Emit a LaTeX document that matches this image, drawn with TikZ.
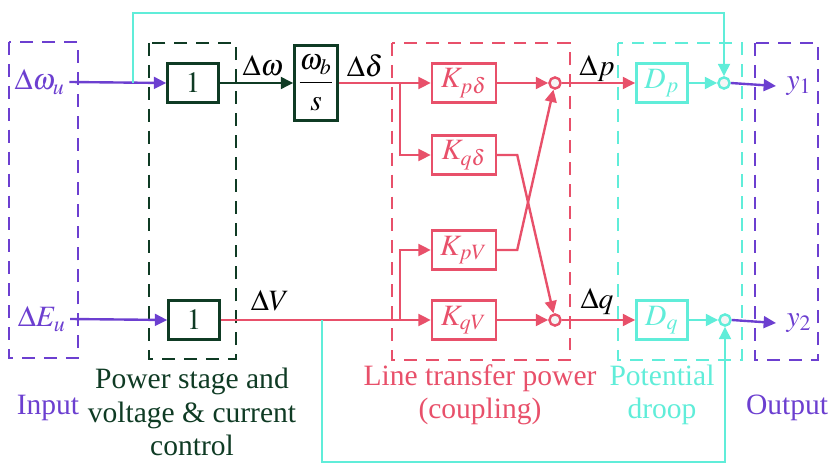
\documentclass[tikz,border=0pt]{standalone}
\usepackage{amsmath}
\usepackage{mathptmx}
\usepackage{fontspec}
\setmainfont{Liberation Serif}
\usepackage{tikz}
\usetikzlibrary{arrows.meta,positioning}

\definecolor{inpurple}{HTML}{6C3FD0}
\definecolor{pwgreen}{HTML}{0F3B24}
\definecolor{lnred}{HTML}{E8506A}
\definecolor{drteal}{HTML}{60EDD9}

\begin{document}
\begin{tikzpicture}[x=0.0125cm, y=-0.0125cm, >={Triangle[length=4.4pt,width=4.2pt]},
    font=\fontsize{10.5}{12}\selectfont, line width=0.85pt,
    blk/.style={draw, rectangle, minimum width=0.64cm,
                minimum height=0.49cm, inner sep=1pt, align=center},
    kblk/.style={blk, draw=lnred, text=lnred, minimum width=0.8cm},
    sumpt/.style={draw, circle, fill=gray!8, minimum size=0.14cm, inner sep=0pt},
    grp/.style={dashed, dash pattern=on 4.6pt off 3.2pt},
    lbl/.style={align=center, font=\fontsize{10.5}{11.9}\selectfont}]

\useasboundingbox (0,0) rectangle (830,471);

% dashed groups
\draw[grp, inpurple] (9,42) rectangle (78,358);
\draw[grp, pwgreen]  (149,43) rectangle (236,359);
\draw[grp, lnred]    (392,43) rectangle (570,360);
\draw[grp, drteal]   (618,43) rectangle (742,360);
\draw[grp, inpurple] (755,43) rectangle (818,360);

% blocks
\node[blk, draw=pwgreen, text=pwgreen] (gw) at (193,83)  {$1$};
\node[blk, draw=pwgreen, text=pwgreen] (ge) at (194,320) {$1$};
\node[blk, draw=pwgreen, minimum width=0.54cm, minimum height=0.94cm,
      inner sep=0pt] (integ) at (316,83) {$\dfrac{\omega_b}{s}$};

\node[kblk] (kpd) at (464,83)  {$K_{p\delta}$};
\node[kblk] (kqd) at (464,155) {$K_{q\delta}$};
\node[kblk] (kpv) at (464,250) {$K_{pV}$};
\node[kblk] (kqv) at (464,320) {$K_{qV}$};

\node[blk, draw=drteal, text=drteal] (dp) at (662,83)  {$D_p$};
\node[blk, draw=drteal, text=drteal] (dq) at (662,320) {$D_q$};

\node[sumpt, draw=lnred]  (sp) at (555,83)  {};
\node[sumpt, draw=lnred]  (sq) at (555,320) {};
\node[sumpt, draw=drteal] (sy1) at (724,83)  {};
\node[sumpt, draw=drteal] (sy2) at (725,320) {};

% signals
\node[text=inpurple, inner sep=1pt] (wu) at (40,82)  {$\Delta\omega_u$};
\node[text=inpurple, inner sep=1pt] (eu) at (42,319) {$\Delta E_u$};
\node[text=inpurple, anchor=west] (y1) at (776,86)  {$y_1$};
\node[text=inpurple, anchor=west] (y2) at (776,323) {$y_2$};

\node (dw)  at (263,66)  {$\Delta\omega$};
\node (dd)  at (365,66)  {$\Delta\delta$};
\node (dv)  at (270,301) {$\Delta V$};
\node (dpl) at (597,68)  {$\Delta p$};
\node (dql) at (597,302) {$\Delta q$};

\coordinate (tapw) at (133,83);
\coordinate (tapv) at (322,320);
\coordinate (brd)  at (400,83);
\coordinate (brv)  at (400,320);

% connectors
\draw[->, inpurple] (wu.east) -- (gw.west);
\draw[->, inpurple] (eu.east) -- (ge.west);
\draw[->, pwgreen] (gw.east) -- (integ.west);

\draw[->, lnred] (integ.east) -- (kpd.west);
\draw[->, lnred] (brd) |- (kqd.west);
\draw[->, lnred] (ge.east) -- (kqv.west);
\draw[->, lnred] (brv) |- (kpv.west);

\draw[->, lnred] (kpd.east) -- (sp.west);
\draw[->, lnred] (kqv.east) -- (sq.west);
\draw[->, lnred] (kqd.east) -- ++(20,0) -- (sq);
\draw[->, lnred] (kpv.east) -- ++(20,0) -- (sp);

\draw[->, lnred] (sp.east) -- (dp.west);
\draw[->, lnred] (sq.east) -- (dq.west);

\draw[->, drteal] (dp.east) -- (sy1.west);
\draw[->, drteal] (dq.east) -- (sy2.west);
\draw[->, drteal] (tapw) -- ++(0,-70) -| (sy1.north);
\draw[->, drteal] (tapv) -- ++(0,142) -| (sy2.south);

\draw[->, inpurple] (sy1.east) -- (y1.west);
\draw[->, inpurple] (sy2.east) -- (y2.west);

% group captions
\node[lbl, text=inpurple] at (48,408) {Input};
\node[lbl, text=pwgreen]  at (192,412) {Power stage and\\voltage \& current\\control};
\node[lbl, text=lnred]    at (480,395) {Line transfer power\\(coupling)};
\node[lbl, text=drteal]   at (662,395) {Potential\\droop};
\node[lbl, text=inpurple] at (787,408) {Output};

\end{tikzpicture}
\end{document}
